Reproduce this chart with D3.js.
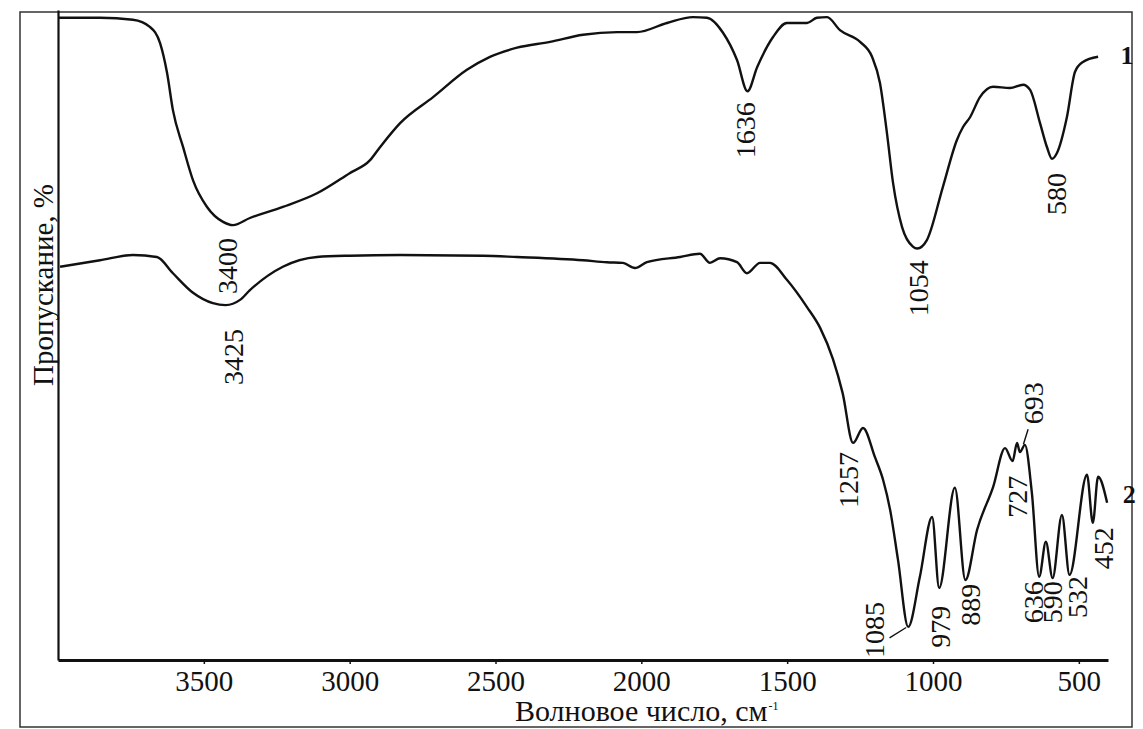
<!DOCTYPE html>
<html>
<head>
<meta charset="utf-8">
<script src="https://cdn.jsdelivr.net/npm/d3@7"></script>
<style>
  html, body { margin: 0; padding: 0; background: #fff; }
  svg text { font-family: "Liberation Serif", "Times New Roman", serif; }
</style>
</head>
<body>
<svg id="chart" width="1143" height="729"></svg>
<script>
// ---- Data (wavenumber cm^-1, transmittance in arbitrary %) ----
const xTicks = [3500, 3000, 2500, 2000, 1500, 1000, 500];

const spectrum1Wave = [4000, 3856, 3743, 3685, 3650, 3626, 3606, 3571, 3537, 3489, 3434, 3400, 3342, 3229, 3112, 3000, 2930, 2896, 2827, 2714, 2598, 2519, 2426, 2313, 2200, 2083, 2015, 1912, 1823, 1775, 1720, 1672, 1636, 1603, 1549, 1501, 1432, 1398, 1363, 1319, 1250, 1209, 1182, 1158, 1137, 1106, 1069, 1054, 1021, 966, 918, 897, 873, 839, 794, 736, 691, 667, 633, 610, 592, 575, 541, 513, 486, 434];
const spectrum1Value = [98.8, 98.8, 98.5, 97.4, 94.9, 90.3, 84.6, 78.9, 73.8, 69.7, 67.4, 66.9, 68.0, 69.7, 71.8, 74.9, 76.9, 78.9, 82.6, 86.6, 90.8, 92.8, 94.2, 95.1, 96.2, 96.6, 96.6, 98.0, 98.9, 98.8, 96.5, 92.3, 87.5, 91.2, 95.8, 98.0, 98.0, 98.8, 98.9, 96.9, 95.1, 92.8, 88.8, 81.1, 73.4, 66.6, 63.6, 63.3, 64.6, 72.8, 80.0, 82.0, 83.5, 86.6, 88.2, 88.0, 88.5, 87.7, 82.6, 79.0, 77.1, 78.0, 83.5, 90.5, 92.0, 92.8];

const spectrum2Wave = [3993, 3856, 3743, 3661, 3606, 3537, 3469, 3425, 3376, 3342, 3229, 3112, 3000, 2827, 2543, 2426, 2200, 2118, 2063, 2022, 1981, 1867, 1799, 1765, 1730, 1672, 1638, 1593, 1559, 1501, 1432, 1387, 1343, 1310, 1274, 1240, 1199, 1171, 1147, 1120, 1085, 1045, 1003, 979, 925, 889, 849, 794, 753, 727, 712, 702, 685, 661, 636, 613, 590, 558, 532, 472, 452, 434, 403];
const spectrum2Value = [60.5, 61.5, 62.3, 62.0, 59.5, 56.5, 54.9, 54.6, 55.4, 56.9, 60.5, 62.0, 62.2, 62.3, 62.2, 62.0, 61.5, 61.2, 61.1, 60.3, 61.2, 62.0, 62.5, 61.1, 61.8, 61.2, 59.5, 61.1, 61.1, 58.5, 54.3, 51.1, 46.3, 41.1, 33.4, 35.7, 31.2, 27.7, 23.1, 15.4, 5.1, 12.8, 22.0, 11.1, 26.5, 12.3, 20.0, 26.6, 32.6, 30.6, 33.4, 32.0, 33.1, 25.7, 12.8, 18.2, 12.6, 22.3, 13.1, 28.5, 21.1, 28.2, 24.2];

// peak annotations: label, centre wavenumber, centre value
const peakLabels = ["3400", "3425", "1636", "1054", "580", "1257", "1085", "979", "889", "727", "693", "636", "590", "532", "452"];
const peakLabelWave = [3420, 3400, 1643, 1051, 578, 1291, 1199, 976, 873, 712, 657, 654, 592, 506, 414];
const peakLabelValue = [60.6, 46.6, 81.5, 57.2, 71.7, 27.7, 4.6, 5.1, 8.5, 25.1, 39.5, 8.9, 8.9, 9.7, 17.2];

// leader lines: [wave1, value1, wave2, value2]
const leaderLines = [[1149, 3.4, 1092, 5.0], [674, 35.5, 690, 33.2]];

// curve numbers
const curveNames = ["1", "2"];
const curveNameWave = [335, 327];
const curveNameValue = [93.0, 25.5];

const xTitle = "Волновое число, см";
const xTitleSup = "-1";
const yTitle = "Пропускание, %";

// ---- Drawing ----
const FONT = "Liberation Serif, Times New Roman, serif";
const svg = d3.select("#chart");

const x = d3.scaleLinear().domain([4000, 400]).range([58, 1108]);
const y = d3.scaleLinear().domain([0, 100]).range([660, 10]);

// scan frame
svg.append("rect")
  .attr("x", 20).attr("y", 12).attr("width", 1112).attr("height", 715)
  .attr("fill", "none").attr("stroke", "#333").attr("stroke-width", 1.5);

// x axis
const gx = svg.append("g").attr("transform", `translate(0,${y(0)})`)
  .call(d3.axisBottom(x).tickValues(xTicks).tickFormat(d3.format("d"))
        .tickSize(4).tickSizeOuter(0).tickPadding(6));
gx.attr("font-family", FONT).attr("font-size", 29);
gx.select(".domain").attr("stroke", "#111").attr("stroke-width", 3);
gx.selectAll(".tick line").attr("stroke", "#111").attr("stroke-width", 1.5);
gx.selectAll(".tick text").attr("font-size", 29).attr("fill", "#111")
  .attr("font-family", FONT);

// y axis (no ticks)
const gy = svg.append("g").attr("transform", `translate(${x(4000)},0)`)
  .call(d3.axisLeft(y).tickValues([]).tickSizeOuter(0));
gy.select(".domain").attr("stroke", "#111").attr("stroke-width", 2.2);

// axis titles
const xt = svg.append("text").attr("x", 515).attr("y", 721)
  .attr("text-anchor", "start").attr("font-size", 30).attr("fill", "#111")
  .attr("font-family", FONT).text(xTitle);
const xtw = xt.node().getComputedTextLength();
svg.append("text").attr("x", 515 + xtw + 1).attr("y", 710)
  .attr("font-size", 12).attr("fill", "#111").attr("font-family", FONT)
  .text(xTitleSup);

svg.append("text").attr("transform", "translate(53,285) rotate(-90)")
  .attr("text-anchor", "middle").attr("font-size", 29).attr("fill", "#111")
  .attr("font-family", FONT).text(yTitle);

// spectra
const line = d3.line().x(d => x(d[0])).y(d => y(d[1])).curve(d3.curveMonotoneX);
const s1 = spectrum1Wave.map((w, i) => [w, spectrum1Value[i]]);
const s2 = spectrum2Wave.map((w, i) => [w, spectrum2Value[i]]);
[s1, s2].forEach(s => {
  svg.append("path").datum(s).attr("d", line)
    .attr("fill", "none").attr("stroke", "#111").attr("stroke-width", 2.4)
    .attr("stroke-linejoin", "round");
});

// peak labels
peakLabels.forEach((t, i) => {
  const cx = x(peakLabelWave[i]), cy = y(peakLabelValue[i]);
  svg.append("text")
    .attr("transform", `translate(${cx},${cy}) rotate(-90)`)
    .attr("text-anchor", "middle").attr("dominant-baseline", "central")
    .attr("font-size", 28).attr("fill", "#111").attr("font-family", FONT).text(t);
});

// leader lines
leaderLines.forEach(l => {
  svg.append("line")
    .attr("x1", x(l[0])).attr("y1", y(l[1]))
    .attr("x2", x(l[2])).attr("y2", y(l[3]))
    .attr("stroke", "#111").attr("stroke-width", 1.4);
});

// curve numbers
curveNames.forEach((t, i) => {
  svg.append("text").attr("x", x(curveNameWave[i])).attr("y", y(curveNameValue[i]))
    .attr("text-anchor", "middle").attr("dominant-baseline", "central")
    .attr("font-size", 26).attr("font-weight", "bold").attr("fill", "#111")
    .attr("font-family", FONT).text(t);
});
</script>
</body>
</html>
